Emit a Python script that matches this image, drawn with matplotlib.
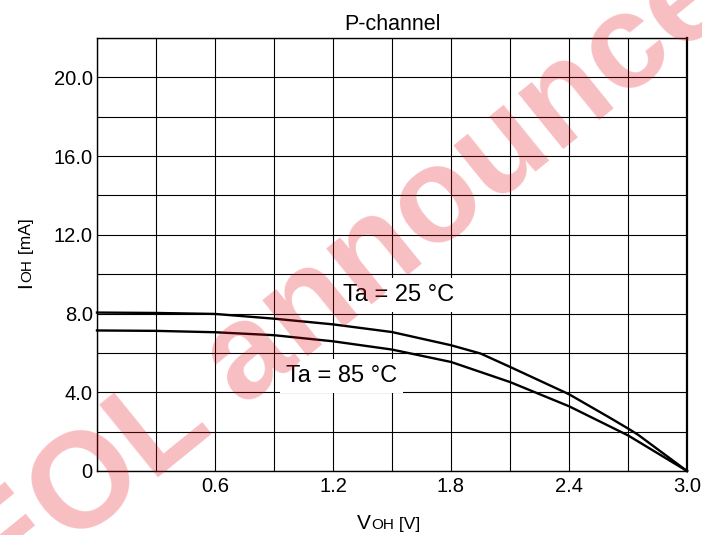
import matplotlib
matplotlib.use("Agg")
import matplotlib.pyplot as plt
import numpy as np

plt.rcParams['font.family'] = ['Liberation Sans', 'DejaVu Sans']

# Data
v_25 = [0, 0.3, 0.6, 0.9, 1.2, 1.5, 1.8, 1.95, 2.1, 2.4, 2.6, 2.7, 2.75, 3.0]
i_25 = [8.05, 8.03, 7.98, 7.74, 7.45, 7.06, 6.39, 5.97, 5.29, 3.9, 2.75, 2.16, 1.85, 0]
v_85 = [0, 0.3, 0.6, 0.9, 1.2, 1.5, 1.8, 2.1, 2.4, 2.7, 3.0]
i_85 = [7.14, 7.12, 7.05, 6.9, 6.59, 6.17, 5.54, 4.52, 3.29, 1.81, 0]
x_grid = [0.3 * k for k in range(11)]
x_labels = ['', '', '0.6', '', '1.2', '', '1.8', '', '2.4', '', '3.0']
y_grid = [2.0 * k for k in range(12)]
y_labels = ['0', '', '4.0', '', '8.0', '', '12.0', '', '16.0', '', '20.0', '']

W, H = 702, 535
fig = plt.figure(figsize=(W / 100, H / 100), dpi=100)
ax = fig.add_axes([97 / W, 1 - 471 / H, (687 - 97) / W, (471 - 38) / H])
ax.set_xlim(0, 3.0)
ax.set_ylim(0, 22.0)
ax.set_xticks(x_grid)
ax.set_xticklabels(x_labels)
ax.set_yticks(y_grid)
ax.set_yticklabels(y_labels)
ax.tick_params(axis='both', length=0, labelsize=14.5, colors='black')
ax.tick_params(axis='x', pad=4.5)
ax.tick_params(axis='y', pad=3)
ax.grid(True, color='black', linewidth=0.8)
ax.set_axisbelow(True)
for s in ax.spines.values():
    s.set_linewidth(1.0)
    s.set_color('black')
ax.spines['right'].set_linewidth(1.6)

ax.plot(v_25, i_25, color='black', lw=1.7, clip_on=False, zorder=3)
ax.plot(v_85, i_85, color='black', lw=1.7, clip_on=False, zorder=3)

bb = dict(boxstyle='square,pad=0.25', fc='white', ec='none')
ax.text(1.25, 8.64, 'Ta = 25 °C', fontsize=17, ha='left', va='baseline', bbox=bb, zorder=4)
ax.text(0.96, 4.52, 'Ta = 85 °C', fontsize=17, ha='left', va='baseline', bbox=bb, zorder=4)

ax.set_title('P-channel', fontsize=15.5, pad=6)

# Composite axis labels with small-cap style "OH"
renderer = fig.canvas.get_renderer()

def seq_text(x_px, y_px, pieces, rotation=0):
    x, y = x_px, y_px
    for s, fs in pieces:
        t = fig.text(x / W, 1 - y / H, s, fontsize=fs, ha='left', va='baseline',
                     rotation=rotation, rotation_mode='anchor')
        ext = t.get_window_extent(renderer)
        if rotation == 0:
            x += ext.width
        else:
            y -= ext.height

seq_text(357, 529, [('V', 15), ('OH', 11), (' [V]', 12.5)])
seq_text(31, 288, [('I', 15), ('OH', 11), (' [mA]', 12.5)], rotation=90)

# watermark
fig.text(472 / W, 1 - 178 / H, 'EOL announcement', fontsize=97, fontweight='bold',
         color='#e8101e', alpha=0.27, ha='center', va='center', rotation=39,
         rotation_mode='anchor', zorder=10)

fig.savefig('out.png', dpi=100)
